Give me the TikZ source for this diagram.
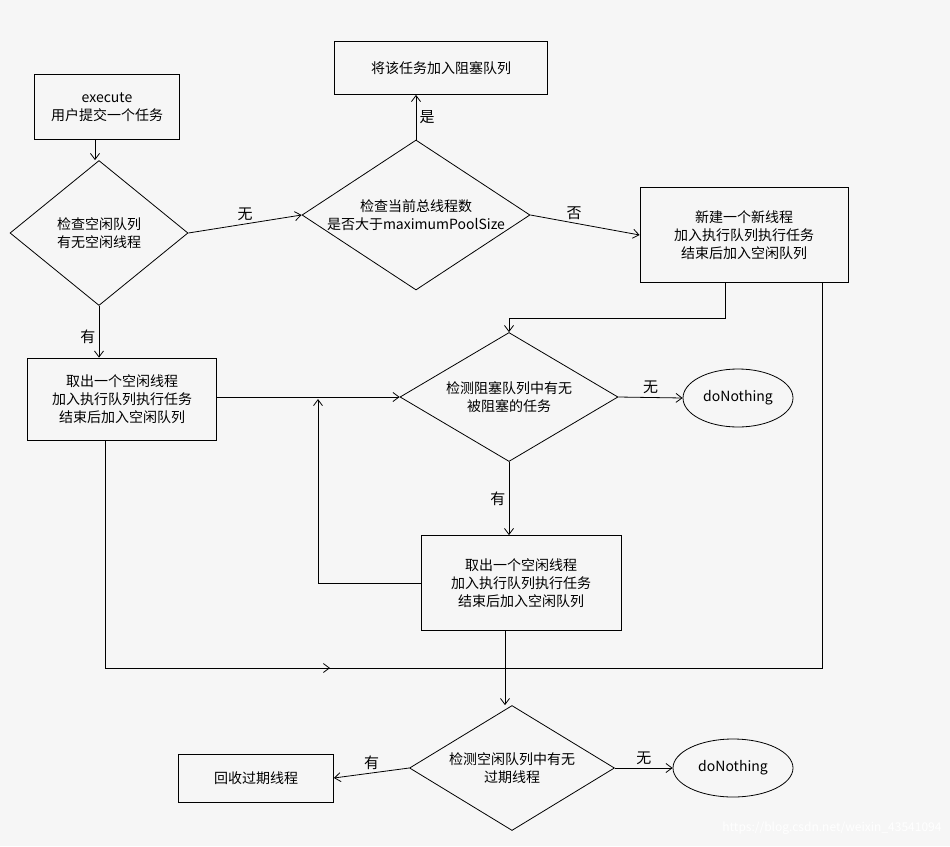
\documentclass[tikz,border=0pt]{standalone}
\usepackage{fontspec}
\setmainfont{Noto Sans CJK SC}
\usetikzlibrary{shapes.geometric,arrows.meta}
\begin{document}
\begin{tikzpicture}[x=1pt,y=-1pt,
  every node/.style={font=\fontsize{14}{18}\selectfont},
  box/.style={draw,thick,align=center,inner sep=2pt},
  dia/.style={draw,thick,diamond,aspect=1.5,align=center,inner sep=0pt},
  ell/.style={draw,thick,ellipse,minimum width=110,minimum height=58},
  lab/.style={font=\fontsize{15}{18}\selectfont},
  arr/.style={thick,-{Straight Barb[length=6pt,width=9pt]}},
  ln/.style={thick}]
\fill[white!93!gray] (0,0) rectangle (950,846);
\useasboundingbox (0,0) rectangle (950,846);
\node[box,minimum width=213,minimum height=53] (block) at (441,68) {将该任务加入阻塞队列};
\node[box,minimum width=145,minimum height=65] (exec) at (107,107) {execute\\用户提交一个任务};
\node[dia,minimum width=178,minimum height=145] (d1) at (99,233) {检查空闲队列\\有无空闲线程};
\node[dia,minimum width=228,minimum height=150] (d2) at (416,215) {检查当前总线程数\\是否大于maximumPoolSize};
\node[box,minimum width=208,minimum height=95] (newt) at (744,235) {新建一个新线程\\加入执行队列执行任务\\结束后加入空闲队列};
\node[box,minimum width=189,minimum height=82] (take) at (122,399) {取出一个空闲线程\\加入执行队列执行任务\\结束后加入空闲队列};
\node[dia,minimum width=218,minimum height=129] (d3) at (509,397) {检测阻塞队列中有无\\被阻塞的任务};
\node[ell] (dn1) at (738,398) {doNothing};
\node[box,minimum width=200,minimum height=95] (mid) at (521,583) {取出一个空闲线程\\加入执行队列执行任务\\结束后加入空闲队列};
\node[dia,minimum width=205,minimum height=125] (d4) at (512,768) {检测空闲队列中有无\\过期线程};
\node[ell,minimum width=120] (dn2) at (733,768) {doNothing};
\node[box,minimum width=155,minimum height=48] (rec) at (256,778) {回收过期线程};
\coordinate (a1) at (725,318);
\coordinate (a2) at (509,318);
\coordinate (b1) at (822,668);
\coordinate (b2) at (505,668);
\coordinate (c1) at (318,583);
\coordinate (c2) at (318,399);
\coordinate (e1) at (105,668);
\coordinate (e2) at (330,668);
\draw[arr] (exec.south -| 95,0) -- (d1.north -| 95,0);
\draw[arr] (d1.east) -- node[lab,above] {无} (d2.west);
\draw[arr] (d2.north) -- node[lab,right] {是} (block.south -| d2.north);
\draw[arr] (d2.east) -- node[lab,above,pos=0.4] {否} (newt.west);
\draw[ln] (newt.south -| a1) -- (a1) -- (a2);
\draw[arr] (a2) -- (d3.north -| a2);
\draw[arr] (d1.south) -- node[lab,left,pos=0.6] {有} (take.north -| d1.south);
\draw[arr] (take.east |- d3.west) -- (d3.west);
\draw[arr] (d3.east) -- node[lab,above] {无} (dn1.west);
\draw[arr] (d3.south) -- node[lab,left] {有} (mid.north -| d3.south);
\draw[ln] (mid.west) -- (c1);
\draw[arr] (c1) -- (c2);
\draw[ln] (newt.south -| b1) -- (b1) -- (b2);
\draw[ln] (take.south -| e1) -- (e1) -- (b2);
\draw[arr] (e1) -- (e2);
\draw[arr] (mid.south -| b2) -- (d4.north -| b2);
\draw[arr] (d4.west) -- node[lab,above] {有} (rec.east);
\draw[arr] (d4.east) -- node[lab,above] {无} (dn2.west);
\node[font=\fontsize{12}{14}\selectfont,text=white,anchor=south east] (wm) at (945,838) {https://blog.csdn.net/weixin\_43541094};
\end{tikzpicture}
\end{document}
